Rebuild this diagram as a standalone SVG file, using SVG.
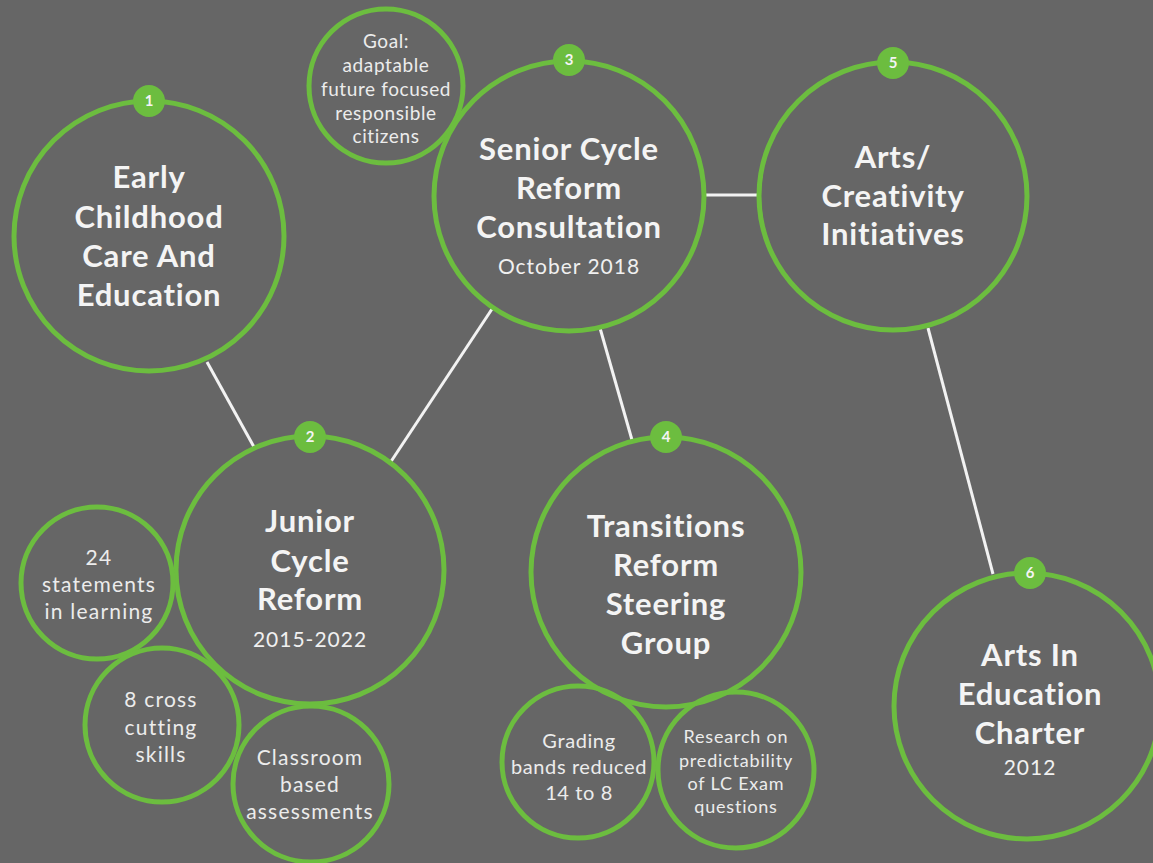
<svg xmlns="http://www.w3.org/2000/svg" width="1153" height="863" viewBox="0 0 1153 863">
<style>
.ring{fill:none;stroke:#6cbd3f;stroke-width:5}
.badge{fill:#6cbd3f}
.num{font-family:Lato,"Open Sans",sans-serif;font-weight:700;font-size:15px;fill:#f4f4f4;text-anchor:middle}
.title{font-family:Lato,"Open Sans",sans-serif;font-weight:700;font-size:31px;letter-spacing:0.8px;fill:#f4f4f4;text-anchor:middle}
.sub{font-family:Lato,"Open Sans",sans-serif;font-size:21px;letter-spacing:1px;fill:#f0f0f0;text-anchor:middle}
.sj{font-family:Lato,"Open Sans",sans-serif;font-size:21px;letter-spacing:1.2px;fill:#ececec;text-anchor:middle}
.sg{font-family:Lato,"Open Sans",sans-serif;font-size:19px;letter-spacing:0.6px;fill:#ececec;text-anchor:middle}
.sb{font-family:Lato,"Open Sans",sans-serif;font-size:20px;letter-spacing:0.6px;fill:#ececec;text-anchor:middle}
.sr{font-family:Lato,"Open Sans",sans-serif;font-size:18px;letter-spacing:0.8px;fill:#ececec;text-anchor:middle}
.link{stroke:#f2f2f2;stroke-width:3;fill:none}
</style>
<rect width="1153" height="863" fill="#666666"/>
<g id="connectors">
<line class="link" x1="207" y1="362" x2="254" y2="447"/>
<line class="link" x1="492" y1="309" x2="390" y2="463"/>
<line class="link" x1="705" y1="195" x2="758" y2="195"/>
<line class="link" x1="600" y1="328" x2="632" y2="440"/>
<line class="link" x1="928" y1="328" x2="993" y2="574"/>
</g>
<g id="node1">
<circle class="ring" cx="149" cy="236" r="135"/>
<circle class="badge" cx="149" cy="101" r="16"/>
<text class="num" x="149" y="106">1</text>
<text class="title" x="149" y="188">Early</text>
<text class="title" x="149" y="228">Childhood</text>
<text class="title" x="149" y="267">Care And</text>
<text class="title" x="149" y="306">Education</text>
</g>
<g id="goal">
<circle class="ring" cx="386" cy="86" r="77"/>
<text class="sg" x="386" y="48">Goal:</text>
<text class="sg" x="386" y="72">adaptable</text>
<text class="sg" x="386" y="96">future focused</text>
<text class="sg" x="386" y="120">responsible</text>
<text class="sg" x="386" y="143">citizens</text>
</g>
<g id="node3">
<circle class="ring" cx="569" cy="196" r="135"/>
<circle class="badge" cx="569" cy="60" r="16"/>
<text class="num" x="569" y="65">3</text>
<text class="title" x="569" y="160">Senior Cycle</text>
<text class="title" x="569" y="199">Reform</text>
<text class="title" x="569" y="238">Consultation</text>
<text class="sub" x="569" y="274">October 2018</text>
</g>
<g id="node5">
<circle class="ring" cx="893" cy="196" r="134"/>
<circle class="badge" cx="893" cy="63" r="16"/>
<text class="num" x="893" y="68">5</text>
<text class="title" x="893" y="168">Arts/</text>
<text class="title" x="893" y="207">Creativity</text>
<text class="title" x="893" y="245">Initiatives</text>
</g>
<g id="node2">
<circle class="ring" cx="310" cy="570" r="134"/>
<circle class="badge" cx="310" cy="437" r="16"/>
<text class="num" x="310" y="442">2</text>
<text class="title" x="310" y="532">Junior</text>
<text class="title" x="310" y="572">Cycle</text>
<text class="title" x="310" y="610">Reform</text>
<text class="sub" x="310" y="647">2015-2022</text>
</g>
<g id="statements">
<circle class="ring" cx="97" cy="583" r="76"/>
<text class="sj" x="99" y="565">24</text>
<text class="sj" x="99" y="592">statements</text>
<text class="sj" x="99" y="619">in learning</text>
</g>
<g id="crosscutting">
<circle class="ring" cx="162" cy="725" r="77"/>
<text class="sj" x="161" y="707">8 cross</text>
<text class="sj" x="161" y="735">cutting</text>
<text class="sj" x="161" y="762">skills</text>
</g>
<g id="classroom">
<circle class="ring" cx="311" cy="784" r="78"/>
<text class="sj" x="310" y="765">Classroom</text>
<text class="sj" x="310" y="792">based</text>
<text class="sj" x="310" y="819">assessments</text>
</g>
<g id="node4">
<circle class="ring" cx="666" cy="572" r="135"/>
<circle class="badge" cx="666" cy="437" r="16"/>
<text class="num" x="666" y="442">4</text>
<text class="title" x="666" y="537">Transitions</text>
<text class="title" x="666" y="576">Reform</text>
<text class="title" x="666" y="615">Steering</text>
<text class="title" x="666" y="654">Group</text>
</g>
<g id="grading">
<circle class="ring" cx="578" cy="762" r="76"/>
<text class="sb" x="579" y="748">Grading</text>
<text class="sb" x="579" y="774">bands reduced</text>
<text class="sb" x="579" y="800">14 to 8</text>
</g>
<g id="research">
<circle class="ring" cx="736" cy="770" r="78"/>
<text class="sr" x="736" y="743">Research on</text>
<text class="sr" x="736" y="767">predictability</text>
<text class="sr" x="736" y="790">of LC Exam</text>
<text class="sr" x="736" y="813">questions</text>
</g>
<g id="node6">
<circle class="ring" cx="1027" cy="706" r="133"/>
<circle class="badge" cx="1030" cy="573" r="16"/>
<text class="num" x="1030" y="578">6</text>
<text class="title" x="1030" y="666">Arts In</text>
<text class="title" x="1030" y="705">Education</text>
<text class="title" x="1030" y="744">Charter</text>
<text class="sub" x="1030" y="775">2012</text>
</g>
</svg>
